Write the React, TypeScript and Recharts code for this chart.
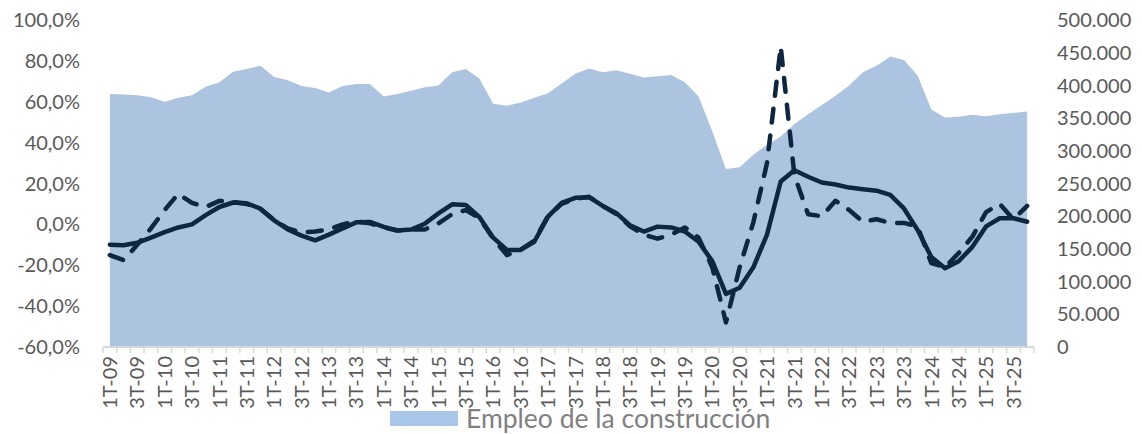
import React from 'react';
import { ComposedChart, Area, Line, XAxis, YAxis, Legend } from 'recharts';

// trimestres 2009-2025
const quarters = [
  '1T-09', '2T-09', '3T-09', '4T-09',
  '1T-10', '2T-10', '3T-10', '4T-10',
  '1T-11', '2T-11', '3T-11', '4T-11',
  '1T-12', '2T-12', '3T-12', '4T-12',
  '1T-13', '2T-13', '3T-13', '4T-13',
  '1T-14', '2T-14', '3T-14', '4T-14',
  '1T-15', '2T-15', '3T-15', '4T-15',
  '1T-16', '2T-16', '3T-16', '4T-16',
  '1T-17', '2T-17', '3T-17', '4T-17',
  '1T-18', '2T-18', '3T-18', '4T-18',
  '1T-19', '2T-19', '3T-19', '4T-19',
  '1T-20', '2T-20', '3T-20', '4T-20',
  '1T-21', '2T-21', '3T-21', '4T-21',
  '1T-22', '2T-22', '3T-22', '4T-22',
  '1T-23', '2T-23', '3T-23', '4T-23',
  '1T-24', '2T-24', '3T-24', '4T-24',
  '1T-25', '2T-25', '3T-25', '4T-25',
];

// Empleo de la construcción (personas, eje derecho)
const empleo = [
  387000, 386000, 385000, 382000,
  375000, 381000, 385000, 398000,
  405000, 421000, 425000, 430000,
  413000, 408000, 399000, 396000,
  389000, 399000, 402000, 402000,
  383000, 387000, 392000, 397000,
  400000, 420000, 425000, 410000,
  372000, 369000, 374000, 381000,
  388000, 403000, 418000, 426000,
  420000, 423000, 418000, 412000,
  414000, 416000, 405000, 383000,
  330000, 272000, 275000, 294000,
  309000, 322000, 341000, 356000,
  370000, 384000, 400000, 420000,
  430000, 444000, 439000, 415000,
  363000, 351000, 352000, 355000,
  353000, 356000, 358000, 360000,
];

// variación interanual, línea continua (%)
const variacion = [
  -10, -10.2, -9, -6.5,
  -3.8, -1.5, 0, 4.5,
  8.5, 10.7, 10.3, 7.7,
  2, -2.5, -5.5, -7.8,
  -5, -2, 1, 1.2,
  -1.2, -3, -2.5, 0.3,
  5.4, 9.8, 9.5, 3.5,
  -6.5, -12.5, -12.5, -8.5,
  3.8, 10.5, 13, 13.3,
  9, 5.5, -0.5, -3.5,
  -1.1, -1.5, -3.5, -8.5,
  -18, -34, -31, -21,
  -5, 21, 26.5, 23.3,
  20.5, 19.5, 18, 17.2,
  16.5, 14.4, 7.8, -2.8,
  -16, -21.5, -18, -11,
  -1, 3, 3, 1.3,
];

// variación, línea discontinua (%)
const variacionDisc = [
  -15, -17.5, -10, -2,
  7, 15, 10.5, 8.5,
  11.5, 11, 10, 7.5,
  2, -2, -4, -3.5,
  -2.5, 0, 1.5, 0.5,
  -1.5, -3, -2.5, -2.5,
  0.5, 5, 7, 3,
  -7, -15, -12.5, -8,
  4, 10, 12.5, 13.5,
  9, 5, -1, -5,
  -7, -5, -1.5, -6.5,
  -21, -48, -21, 1,
  30, 87, 24, 5,
  4, 11.5, 7, 1.3,
  2.5, 0.7, 0.7, -1,
  -19, -21, -14, -6,
  6, 10, 2.5, 9,
];

const pctTicks = [-60, -40, -20, 0, 20, 40, 60, 80, 100];
const empleoTicks = [0, 50000, 100000, 150000, 200000, 250000, 300000, 350000, 400000, 450000, 500000];

const data = quarters.map((q, i) => ({
  q,
  empleo: empleo[i],
  variacion: variacion[i],
  variacionDisc: variacionDisc[i],
}));

const NAVY = '#0f2641';
const AXIS_TEXT = '#595959';
const FONT = 'Lato, "Open Sans", sans-serif';

const fmtPct = (v: number) => `${v.toFixed(1).replace('.', ',')}%`;
const fmtMiles = (v: number) => String(v).replace(/\B(?=(\d{3})+(?!\d))/g, '.');

const XTick = (props: any) => {
  const { x, y, payload, index } = props;
  const half = payload && payload.offset ? payload.offset : 6.85;
  const isLast = index === quarters.length - 1;
  return (
    <g>
      <line x1={x - half} x2={x - half} y1={y} y2={y + 6} stroke="#d9d9d9" strokeWidth={1.5} />
      {isLast && <line x1={x + half} x2={x + half} y1={y} y2={y + 6} stroke="#d9d9d9" strokeWidth={1.5} />}
      {index % 2 === 0 && (
        <text
          transform={`translate(${x},${y + 9}) rotate(-90)`}
          textAnchor="end"
          dy="0.36em"
          fill={AXIS_TEXT}
          fontSize={20}
          fontFamily={FONT}
        >
          {payload.value}
        </text>
      )}
    </g>
  );
};

const LegendContent = () => (
  <div style={{ display: 'flex', alignItems: 'center', height: 24, paddingLeft: 390, paddingBottom: 4 }}>
    <span style={{ display: 'inline-block', width: 68, height: 15, background: '#a9c7ea', marginRight: 8 }} />
    <span style={{ fontFamily: FONT, fontSize: 26.5, color: '#808080', lineHeight: '24px', whiteSpace: 'nowrap' }}>
      Empleo de la construcción
    </span>
  </div>
);

export default function App() {
  return (
    <div
      style={{
        position: 'fixed',
        left: 0,
        top: 0,
        width: 1142,
        height: 434,
        overflow: 'hidden',
        background: '#ffffff',
        fontFamily: FONT,
      }}
    >
      <ComposedChart width={1142} height={434} data={data} margin={{ top: 20, right: 0, bottom: 0, left: 0 }}>
        <XAxis
          dataKey="q"
          scale="band"
          interval={0}
          height={59}
          tickSize={0}
          tickMargin={0}
          tickLine={false}
          axisLine={{ stroke: '#d9d9d9', strokeWidth: 2 }}
          tick={<XTick />}
        />
        <YAxis
          yAxisId="pct"
          domain={[-60, 100]}
          ticks={pctTicks}
          interval={0}
          tickFormatter={fmtPct}
          width={103}
          axisLine={false}
          tickLine={false}
          tickSize={0}
          tickMargin={23}
          tick={{ fill: AXIS_TEXT, fontSize: 20, fontFamily: FONT }}
        />
        <YAxis
          yAxisId="emp"
          orientation="right"
          domain={[0, 500000]}
          ticks={empleoTicks}
          interval={0}
          tickFormatter={fmtMiles}
          width={108}
          axisLine={false}
          tickLine={false}
          tickSize={0}
          tickMargin={23}
          tick={{ fill: AXIS_TEXT, fontSize: 20, fontFamily: FONT }}
        />
        <Legend
          verticalAlign="bottom"
          height={28}
          content={() => <LegendContent />}
          wrapperStyle={{ left: 0, width: 1142, height: 28 }}
        />
        <Area
          yAxisId="emp"
          dataKey="empleo"
          name="Empleo de la construcción"
          type="linear"
          fill="#adc4e0"
          fillOpacity={1}
          stroke="none"
          dot={false}
          activeDot={false}
          isAnimationActive={false}
        />
        <Line
          yAxisId="pct"
          dataKey="variacionDisc"
          type="linear"
          stroke={NAVY}
          strokeWidth={4.5}
          strokeDasharray="14 13"
          strokeLinecap="round"
          strokeLinejoin="round"
          dot={false}
          activeDot={false}
          isAnimationActive={false}
        />
        <Line
          yAxisId="pct"
          dataKey="variacion"
          type="linear"
          stroke={NAVY}
          strokeWidth={4.5}
          strokeLinecap="round"
          strokeLinejoin="round"
          dot={false}
          activeDot={false}
          isAnimationActive={false}
        />
      </ComposedChart>
    </div>
  );
}
